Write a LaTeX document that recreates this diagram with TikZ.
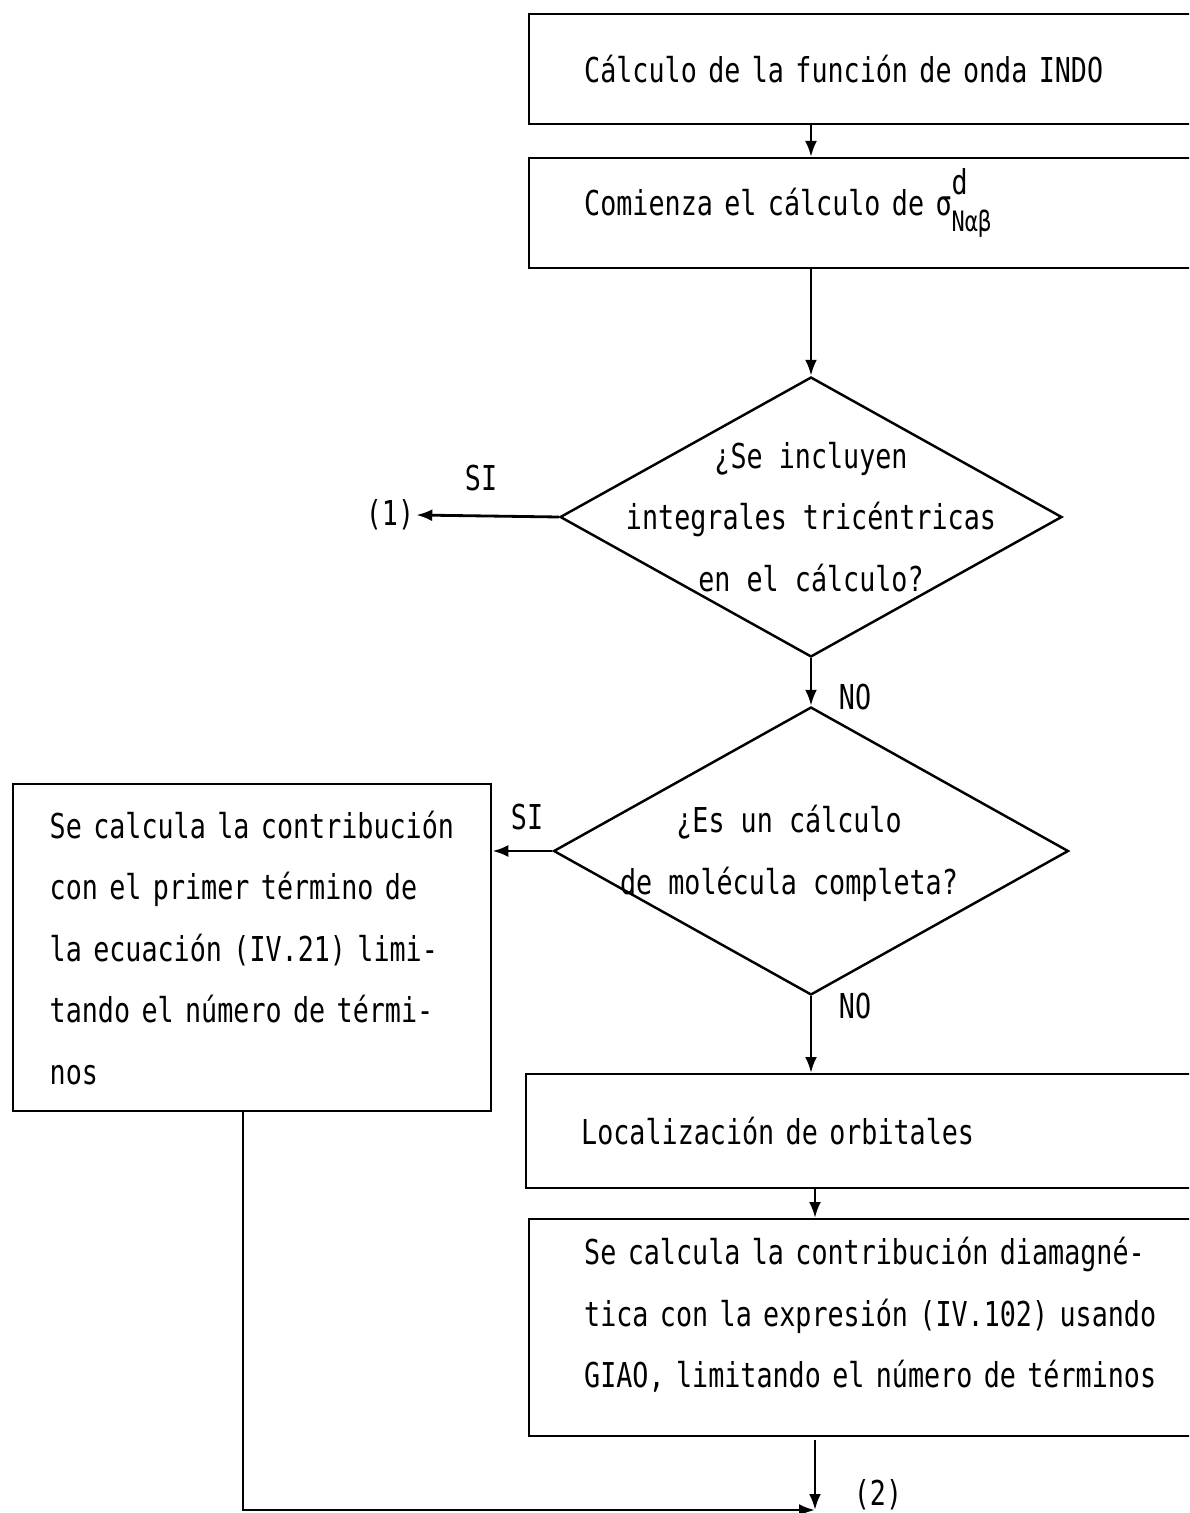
\documentclass[tikz,border=0pt]{standalone}
\usepackage{amsmath}
\usepackage{fontspec}
\newfontfamily\flowfont{DejaVu Sans Mono}[FakeStretch=0.78]
\usetikzlibrary{arrows.meta, positioning, shapes.geometric}

\begin{document}
\begin{tikzpicture}[
    x=0.02cm,
    y=-0.02cm,
    font=\flowfont\fontsize{19.5}{35}\selectfont,
    % === STYLES ===
    stepbox/.style={
        rectangle,
        draw,
        line width=1.4pt,
        anchor=north west,
        align=left,
        inner xsep=1cm,
        inner ysep=0pt,
        minimum width=13.8cm,
        text width=11.6cm
    },
    decision/.style={
        diamond,
        draw,
        line width=1.4pt,
        inner sep=0pt,
        aspect=1.8
    },
    question/.style={
        align=center,
        inner sep=0pt
    },
    arrow/.style={
        -{Latex[length=0.32cm, width=0.24cm]},
        line width=1.6pt
    },
    answer/.style={
        inner sep=1pt
    }
]
\clip (0,0) rectangle (1189,1513);

% === MAIN COLUMN ===

% INDO wave function
\node[stepbox, minimum height=2.2cm] (indo) at (528,13) {Cálculo de la función de onda INDO};

% Start of sigma^d
\node[stepbox, minimum height=2.2cm, text depth=0.85cm] (start) at (528,157)
    {Comienza el cálculo de σ\rlap{\raisebox{0.62em}{d}}\raisebox{-0.45em}{\fontsize{16}{16}\selectfont Nαβ}};

% Three-centre integrals?
\node[decision, minimum width=10.04cm, minimum height=5.6cm] (tric) at (811,517) {};
\node[question] (tric_q) at (tric.center) {¿Se incluyen\\integrales tricéntricas\\en el cálculo?};

% Whole molecule?
\node[decision, minimum width=10.3cm, minimum height=5.76cm] (mol) at (811,851) {};
\node[question, xshift=-0.44cm, yshift=-0.05cm] (mol_q) at (mol.center) {¿Es un cálculo\\de molécula completa?};

% Orbital localisation
\node[stepbox, minimum height=2.28cm] (local) at (525,1073) {Localización de orbitales};

% GIAO diamagnetic term
\node[stepbox, minimum height=4.34cm] (giao) at (528,1218)
    {Se calcula la contribución diamagné-\\tica con la expresión (IV.102) usando\\GIAO, limitando el número de términos\par\kern0.52cm\hrule height 0pt};

% === LEFT BRANCH ===
\node[stepbox, minimum width=9.56cm, minimum height=6.54cm, text width=8.1cm, inner xsep=0.73cm] (first) at (12,783)
    {Se calcula la contribución\\con el primer término de\\la ecuación (IV.21) limi-\\tando el número de térmi-\\nos};

% === EXITS AND LABELS ===
\node[answer] (one) at (390,515) {(1)};
\node[answer] (si_tric) at (481,478) {SI};
\node[answer] (no_tric) at (855,697) {NO};
\node[answer] (si_mol) at (527,817) {SI};
\node[answer] (no_mol) at (855,1006) {NO};
\coordinate (join) at (815,1510);
\node[answer] (two) at (878,1495) {(2)};

% === CONNECTIONS ===
\draw[arrow] (indo.south -| tric.north) -- (start.north -| tric.north);
\draw[arrow] (start.south -| tric.north) -- (tric.north);
\draw[arrow] (tric.west) -- (one.east);
\draw[arrow] (tric.south) -- (mol.north);
\draw[arrow] (mol.west) -- (mol.west -| first.east);
\draw[arrow] (mol.south) -- (local.north -| mol.south);
\draw[arrow] (local.south -| join) -- (giao.north -| join);
\draw[arrow] ([yshift=-0.06cm]giao.south -| join) -- (join);
\draw[arrow] (first.south -| 243,0) |- (join);

\end{tikzpicture}
\end{document}
